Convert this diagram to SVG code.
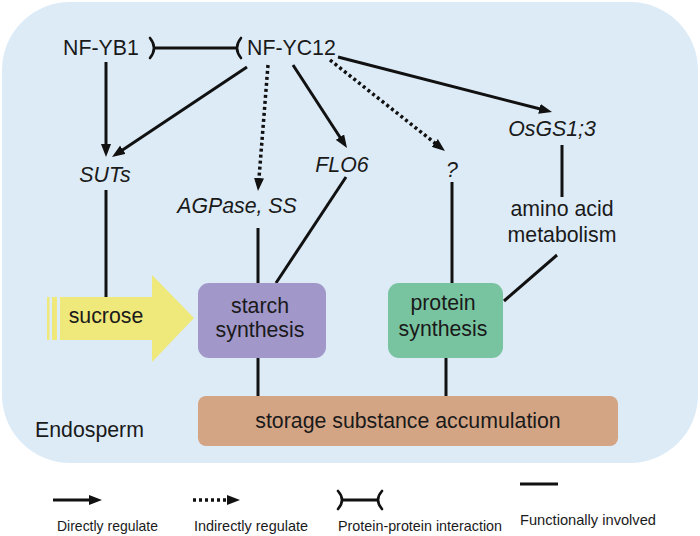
<svg xmlns="http://www.w3.org/2000/svg" width="700" height="536" viewBox="0 0 700 536">
<defs>
<marker id="ah" viewBox="0 0 13 10" refX="4" refY="5" markerWidth="13" markerHeight="10" markerUnits="userSpaceOnUse" orient="auto">
<path d="M0,0 L13,5 L0,10 z" fill="#111"/>
</marker>
<style>
.t{font-family:"Liberation Sans",Arial,sans-serif;font-size:21.3px;fill:#1a1a1a}
.i{font-style:italic}
.m{text-anchor:middle}
.lg{font-family:"Liberation Sans",Arial,sans-serif;font-size:15px;fill:#1a1a1a}
.s{stroke:#111;stroke-width:3;fill:none}
.d{stroke:#111;stroke-width:3.5;fill:none;stroke-dasharray:3 3}
.b{stroke:#111;stroke-width:2.6;fill:none;stroke-linecap:round}
</style>
</defs>
<rect id="endosperm-bg" x="2" y="2" width="696" height="461" rx="68" ry="68" fill="#ddebf7"/>

<g id="connectors">
<line class="s" x1="106" y1="62" x2="106" y2="148" marker-end="url(#ah)"/>
<line class="s" x1="247" y1="67" x2="119.5" y2="152" marker-end="url(#ah)"/>
<line class="d" x1="268" y1="65" x2="258.7" y2="182" marker-end="url(#ah)"/>
<line class="s" x1="293" y1="65" x2="342.1" y2="140.5" marker-end="url(#ah)"/>
<line class="d" x1="330" y1="60" x2="437.9" y2="145.4" marker-end="url(#ah)"/>
<line class="s" x1="338" y1="57" x2="543.3" y2="109.8" marker-end="url(#ah)"/>
<line class="s" x1="155" y1="48" x2="237" y2="48"/>
<path class="b" d="M150,38 Q158,48 150,58"/>
<path class="b" d="M241,38 Q233,48 241,58"/>
<line class="s" x1="106" y1="190" x2="106" y2="297"/>
<line class="s" x1="258" y1="228" x2="258" y2="283"/>
<line class="s" x1="346" y1="177" x2="276" y2="283"/>
<line class="s" x1="452" y1="182" x2="452" y2="283"/>
<line class="s" x1="562" y1="145" x2="562" y2="197"/>
<line class="s" x1="557" y1="255" x2="504" y2="301"/>
<line class="s" x1="258" y1="358" x2="258" y2="397"/>
<line class="s" x1="446" y1="358" x2="446" y2="397"/>
</g>

<g id="nf-yb1"><text class="t" x="63" y="55">NF-YB1</text></g>
<g id="nf-yc12"><text class="t" x="247" y="55">NF-YC12</text></g>
<g id="suts"><text class="t i m" x="105" y="182">SUTs</text></g>
<g id="agpase"><text class="t i m" x="237" y="213">AGPase, SS</text></g>
<g id="flo6"><text class="t i m" x="342" y="172">FLO6</text></g>
<g id="unknown"><text class="t i m" x="452" y="177">?</text></g>
<g id="osgs"><text class="t i m" x="552" y="136">OsGS1;3</text></g>
<g id="amino"><text class="t m" x="562" y="216">amino acid</text><text class="t m" x="562" y="242">metabolism</text></g>

<g id="sucrose">
<rect x="47" y="297" width="2.5" height="43" fill="#efe87a"/>
<rect x="52" y="297" width="5" height="43" fill="#efe87a"/>
<path d="M60,297 L152,297 L152,275 L194,318 L152,362 L152,340 L60,340 z" fill="#efe87a"/>
<text class="t m" x="106" y="323">sucrose</text>
</g>

<g id="starch">
<rect x="198" y="283" width="128" height="75" rx="11" fill="#a197c9"/>
<text class="t m" x="260" y="313">starch</text>
<text class="t m" x="260" y="337">synthesis</text>
</g>

<g id="protein">
<rect x="388" y="283" width="115" height="75" rx="11" fill="#79c4a0"/>
<text class="t m" x="443" y="310">protein</text>
<text class="t m" x="443" y="336">synthesis</text>
</g>

<g id="storage">
<rect x="198" y="396" width="420" height="50" rx="8" fill="#d4a585"/>
<text class="t m" x="408" y="428">storage substance accumulation</text>
</g>

<g id="endosperm-label"><text class="t" x="35" y="437">Endosperm</text></g>

<g id="legend">
<line class="s" x1="53" y1="500" x2="93" y2="500" marker-end="url(#ah)"/>
<line class="d" x1="193" y1="500" x2="231" y2="500" marker-end="url(#ah)"/>
<line class="s" x1="342" y1="500" x2="378" y2="500"/>
<path class="b" d="M338,491 Q346,500 338,509"/>
<path class="b" d="M382,491 Q374,500 382,509"/>
<line class="s" x1="520" y1="484" x2="558" y2="484"/>
<text class="lg" x="57" y="531" textLength="101" lengthAdjust="spacingAndGlyphs">Directly regulate</text>
<text class="lg" x="194" y="531" textLength="114" lengthAdjust="spacingAndGlyphs">Indirectly regulate</text>
<text class="lg" x="338" y="531" textLength="164" lengthAdjust="spacingAndGlyphs">Protein-protein interaction</text>
<text class="lg" x="520" y="525" textLength="136" lengthAdjust="spacingAndGlyphs">Functionally involved</text>
</g>
</svg>
